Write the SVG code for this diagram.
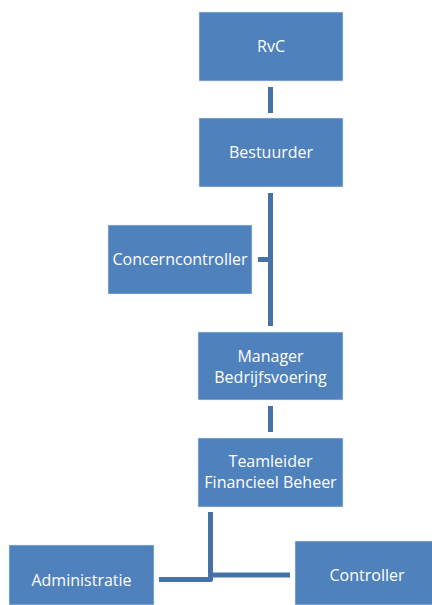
<svg xmlns="http://www.w3.org/2000/svg" width="432" height="605" viewBox="0 0 432 605">
<style>
.box{fill:#4F81BD;stroke:#DCE6F2;stroke-width:0.6}
.lbl{font-family:"Open Sans","Liberation Sans",sans-serif;font-size:16px;fill:#FFFFFF;text-anchor:middle}
.con{stroke:#4672A8;stroke-width:5;fill:none;stroke-linejoin:round}
</style>
<rect width="432" height="605" fill="#FFFFFF"/>
<g id="connectors">
<line class="con" x1="270.5" y1="87" x2="270.5" y2="113"/>
<line class="con" x1="270.5" y1="193" x2="270.5" y2="326"/>
<line class="con" x1="258" y1="259.5" x2="270" y2="259.5"/>
<line class="con" x1="270.5" y1="406" x2="270.5" y2="432"/>
<polyline class="con" points="210.5,512 210.5,579.5 159,579.5"/>
<polyline class="con" points="210.5,575 290,575"/>
</g>
<g id="rvc"><rect class="box" x="199" y="12" width="144" height="69"/><text class="lbl" x="271" y="52">RvC</text></g>
<g id="bestuurder"><rect class="box" x="199" y="118" width="144" height="69"/><text class="lbl" x="271" y="158">Bestuurder</text></g>
<g id="concerncontroller"><rect class="box" x="108" y="225" width="144" height="69"/><text class="lbl" x="180" y="265">Concerncontroller</text></g>
<g id="manager"><rect class="box" x="198" y="332" width="145" height="68"/><text class="lbl" x="270.5" y="362">Manager</text><text class="lbl" x="270.5" y="383">Bedrijfsvoering</text></g>
<g id="teamleider"><rect class="box" x="198" y="438" width="145" height="69"/><text class="lbl" x="270.5" y="467">Teamleider</text><text class="lbl" x="270.5" y="488">Financieel Beheer</text></g>
<g id="administratie"><rect class="box" x="9" y="545" width="145" height="60"/><text class="lbl" x="81.5" y="586">Administratie</text></g>
<g id="controller"><rect class="box" x="295" y="541" width="140" height="64"/><text class="lbl" x="367" y="581">Controller</text></g>
</svg>
